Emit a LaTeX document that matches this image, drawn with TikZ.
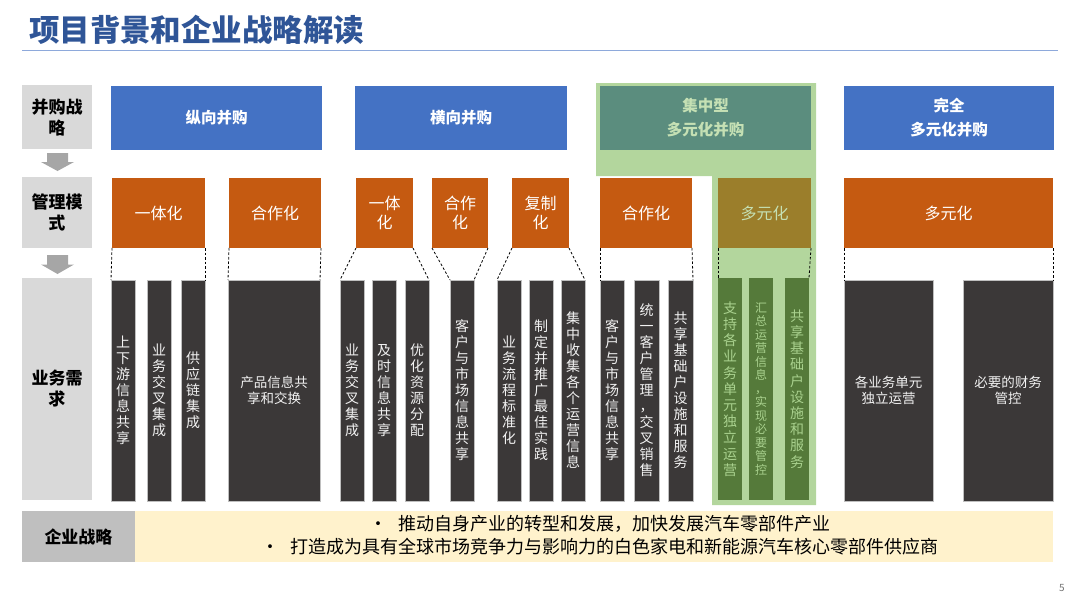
\documentclass[tikz,border=0pt]{standalone}
\usepackage{fontspec}
\setmainfont{Noto Sans CJK SC}
\usetikzlibrary{calc}
\definecolor{titleblue}{HTML}{2F5597}
\definecolor{titleline}{HTML}{8EA9DB}
\definecolor{lgray}{HTML}{D9D9D9}
\definecolor{mgray}{HTML}{BFBFBF}
\definecolor{arrowgray}{HTML}{A6A6A6}
\definecolor{pblue}{HTML}{4472C4}
\definecolor{porange}{HTML}{C55A11}
\definecolor{pdark}{HTML}{3B3838}
\definecolor{pyellow}{HTML}{FFF2CC}
\definecolor{gback}{HTML}{B3D69D}
\definecolor{pteal}{HTML}{5B8D7E}
\definecolor{polive}{HTML}{9B7E2B}
\definecolor{gbarc}{HTML}{557A3A}
\definecolor{gtext}{HTML}{C5E0B4}
\definecolor{gtext2}{HTML}{A9D18E}
\newcommand\mybox[7]{\node[#1,minimum width={#5-#3},minimum height={#6-#4}] (#2) at ({(#3+#5)/2},{(#4+#6)/2}) {#7};}
\begin{document}
\begin{tikzpicture}[x=1pt,y=-1pt,
  every node/.style={inner sep=0pt,outer sep=0pt},
  leftbox/.style={fill=lgray,align=center,font=\bfseries\fontsize{17}{21}\selectfont},
  bluebox/.style={fill=pblue,text=white,align=center,font=\bfseries\fontsize{15.5}{24}\selectfont},
  tealbox/.style={fill=pteal,text=gtext,align=center,font=\bfseries\fontsize{15.5}{24}\selectfont},
  orgbox/.style={fill=porange,text=white,align=center,font=\fontsize{16}{19}\selectfont},
  olivebox/.style={fill=polive,text=gtext,align=center,font=\fontsize{16}{19}\selectfont},
  bar/.style={fill=pdark,draw=mgray,line width=0.4pt,text=white!95!black,align=center,font=\fontsize{14}{16}\selectfont},
  widebar/.style={bar,font=\fontsize{13.5}{16}\selectfont},
  gbar/.style={fill=gbarc,text=gtext2,align=center,font=\fontsize{14}{16.2}\selectfont},
  dashline/.style={draw=black,line width=0.8pt,dash pattern=on 2.5pt off 2pt},
  blockarrow/.style={fill=arrowgray}
]
\useasboundingbox (0,0) rectangle (1080,608);
% title
\node[anchor=west,text=titleblue,font=\bfseries\fontsize{30.5}{32}\selectfont] (title) at (29,30) {项目背景和企业战略解读};
\coordinate (tl1) at (22,50.5);
\coordinate (tl2) at (1058,50.5);
\draw[titleline,line width=1.8pt] (tl1) -- (tl2);

% green background
\fill[gback] (596,83) -- (816,83) -- (816,505) -- (712,505) -- (712,176) -- (596,176) -- cycle;

% left column
\mybox{leftbox}{L1}{22}{85}{92}{149}{并购战\\略}
\mybox{leftbox}{L2}{22}{177}{92}{248}{管理模\\式}
\mybox{leftbox}{L3}{22}{278}{92}{500}{业务需\\求}
\fill[blockarrow] (47,153) -- (68,153) -- (68,162) -- (74,162) -- (57.5,171) -- (41,162) -- (47,162) -- cycle;
\fill[blockarrow] (47,255) -- (68,255) -- (68,264.5) -- (74,264.5) -- (57.5,274) -- (41,264.5) -- (47,264.5) -- cycle;

% top row
\mybox{bluebox}{B1}{111}{86}{322}{150}{纵向并购}
\mybox{bluebox}{B2}{355}{86}{567}{150}{横向并购}
\mybox{tealbox}{B3}{600}{86}{811}{150}{集中型\\多元化并购}
\mybox{bluebox}{B4}{844}{86}{1054}{150}{完全\\多元化并购}

% management row
\mybox{orgbox}{O1}{112}{178}{205}{248}{一体化}
\mybox{orgbox}{O2}{229}{178}{321}{248}{合作化}
\mybox{orgbox}{O3}{356}{178}{413}{248}{一体\\化}
\mybox{orgbox}{O4}{432}{178}{488}{248}{合作\\化}
\mybox{orgbox}{O5}{512}{178}{569}{248}{复制\\化}
\mybox{orgbox}{O6}{600}{178}{692}{248}{合作化}
\mybox{olivebox}{O7}{718}{178}{811}{248}{多元化}
\mybox{orgbox}{O8}{844}{178}{1053}{248}{多元化}

% business bars
\mybox{bar}{A1}{111}{280}{135}{501}{上\\下\\游\\信\\息\\共\\享}
\mybox{bar}{A2}{147}{280}{171}{501}{业\\务\\交\\叉\\集\\成}
\mybox{bar}{A3}{181}{280}{205}{501}{供\\应\\链\\集\\成}
\mybox{widebar}{A4}{228}{280}{320}{501}{产品信息共\\享和交换}
\mybox{bar}{C1}{340}{280}{364}{501}{业\\务\\交\\叉\\集\\成}
\mybox{bar}{C2}{372}{280}{396}{501}{及\\时\\信\\息\\共\\享}
\mybox{bar}{C3}{405}{280}{429}{501}{优\\化\\资\\源\\分\\配}
\mybox{bar}{D1}{450}{280}{474}{501}{客\\户\\与\\市\\场\\信\\息\\共\\享}
\mybox{bar}{E1}{497}{280}{521}{501}{业\\务\\流\\程\\标\\准\\化}
\mybox{bar}{E2}{529}{280}{553}{501}{制\\定\\并\\推\\广\\最\\佳\\实\\践}
\mybox{bar}{E3}{561}{280}{585}{501}{集\\中\\收\\集\\各\\个\\运\\营\\信\\息}
\mybox{bar}{F1}{600}{280}{624}{501}{客\\户\\与\\市\\场\\信\\息\\共\\享}
\mybox{bar}{F2}{634}{280}{659}{501}{统\\一\\客\\户\\管\\理\\，\\交\\叉\\销\\售}
\mybox{bar}{F3}{668}{280}{693}{501}{共\\享\\基\\础\\户\\设\\施\\和\\服\\务}
\mybox{gbar}{G1}{718}{278}{742}{500}{支\\持\\各\\业\\务\\单\\元\\独\\立\\运\\营}
\mybox{gbar,font=\fontsize{12}{13.5}\selectfont}{G2}{749}{278}{773}{500}{汇\\总\\运\\营\\信\\息\\，\\实\\现\\必\\要\\管\\控}
\mybox{gbar}{G3}{785}{278}{809}{500}{共\\享\\基\\础\\户\\设\\施\\和\\服\\务}
\mybox{widebar}{H1}{844}{280}{933}{501}{各业务单元\\独立运营}
\mybox{widebar}{H2}{963}{280}{1053}{501}{必要的财务\\管控}

% dashed connectors
\draw[dashline] (O1.south west) -- (A1.north west);
\draw[dashline] (O1.south east) -- (A3.north east);
\draw[dashline] (O2.south west) -- (A4.north west);
\draw[dashline] (O2.south east) -- (A4.north east);
\draw[dashline] (O3.south west) -- (C1.north west);
\draw[dashline] (O3.south east) -- (C3.north east);
\draw[dashline] (O4.south west) -- (D1.north west);
\draw[dashline] (O4.south east) -- (D1.north east);
\draw[dashline] (O5.south west) -- (E1.north west);
\draw[dashline] (O5.south east) -- (E3.north east);
\draw[dashline] (O6.south west) -- (F1.north west);
\draw[dashline] (O6.south east) -- (F3.north east);
\draw[dashline] (O7.south west) -- (G1.north west);
\draw[dashline] (O7.south east) -- (G3.north east);
\draw[dashline] (O8.south west) -- (H1.north west);
\draw[dashline] (O8.south east) -- (H2.north east);

% strategy row
\mybox{fill=mgray,font=\bfseries\fontsize{17}{20}\selectfont}{S1}{22}{511}{135}{562}{企业战略}
\mybox{fill=pyellow}{S2}{135}{511}{1053}{562}{}
\node[align=center,font=\fontsize{18}{23}\selectfont] (S2t) at (600,535) {•\hspace{12pt}推动自身产业的转型和发展，加快发展汽车零部件产业\\•\hspace{12pt}打造成为具有全球市场竞争力与影响力的白色家电和新能源汽车核心零部件供应商};

% page number
\node[text=black!55,font=\fontsize{10}{12}\selectfont] (pn) at (1062,588) {5};
\end{tikzpicture}
\end{document}
